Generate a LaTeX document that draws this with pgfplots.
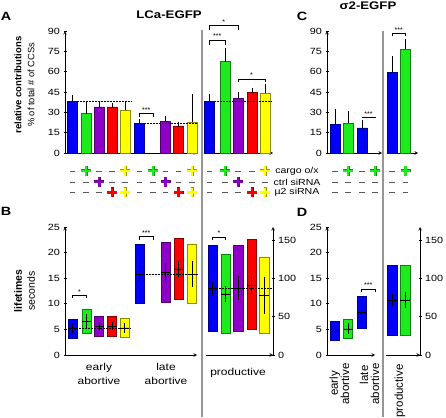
\documentclass[border=0pt]{standalone}
\usepackage{fontspec}
\setmainfont{Liberation Sans}
\newfontfamily\wide{Liberation Sans}[FakeStretch=1.2]
\usepackage{pgfplots}
\pgfplotsset{compat=1.18}
\usepgfplotslibrary{statistics}
\definecolor{cblue}{RGB}{0,0,250}
\definecolor{cgreen}{RGB}{30,235,30}
\definecolor{cpurple}{RGB}{140,0,200}
\definecolor{cred}{RGB}{250,0,0}
\definecolor{cyellow}{RGB}{255,255,0}
\definecolor{sepgray}{RGB}{150,150,150}
\pgfplotsset{
  base/.style={scale only axis, anchor=south west, clip=false,
    axis line style={black, line width=0.6pt, -},
    tick style={black, line width=0.6pt},
    tick align=outside, major tick length=3pt,
    ticklabel style={font=\wide\fontsize{9}{10}\selectfont},
    /pgf/number format/assume math mode=true,
    xtick=\empty, axis x line=bottom},
  bb/.style={ybar, bar width=10pt, fill=#1, draw=#1!55!black, line width=0.5pt,
    error bars/.cd, y dir=plus, y explicit,
    error bar style={black, line width=0.5pt},
    error mark options={black, mark size=2.5pt, line width=0.5pt}},
  eb/.style={draw=none, mark=none,
    error bars/.cd, y dir=both, y explicit,
    error bar style={draw=black, line width=0.5pt},
    error mark options={draw=black, mark size=#1, line width=0.5pt}},
  boxplot/draw direction=y,
  boxplot/every median/.style={black, line width=0.5pt},
}
\newcommand\FB[6]{\addplot[fill=#1, draw=#1!55!black, line width=0.5pt,
  boxplot prepared={draw position=#2, lower whisker=#3, lower quartile=#3,
  median=#4, upper quartile=#5, upper whisker=#5, box extend=#6, draw direction=y}] coordinates {};}
\newcommand\BR[5]{\draw[black, line width=0.5pt] (axis cs:#1,#4) -- (axis cs:#1,#3) -- (axis cs:#2,#3) -- (axis cs:#2,#4);
  \node[font=\fontsize{7}{7}\selectfont, anchor=south, inner sep=0.8pt] at (axis cs:{(#1+#2)/2},#3) {#5};}
\begin{document}
\begin{tikzpicture}[x=1pt,y=1pt]
\useasboundingbox (0,0) rectangle (446,417);
% separators
\draw[sepgray, line width=1.2pt] (202,{417-30}) -- (202,0);
\draw[sepgray, line width=1.2pt] (383,{417-31}) -- (383,0);

% ---------- A left
\begin{axis}[base, at={(65pt,264pt)}, width=132pt, height=122pt,
  xmin=65, xmax=197, ymin=0, ymax=90, axis y line=left, ytick={0,15,...,90}]
\addplot[bb=cblue] coordinates {(72.5,38) +- (0,3) (139.5,22) +- (0,1)};
\addplot[bb=cgreen] coordinates {(86,29) +- (0,7)};
\addplot[bb=cpurple] coordinates {(99,34) +- (0,2) (165.5,23.5) +- (0,2)};
\addplot[bb=cred] coordinates {(112,34) +- (0,1) (178.5,20) +- (0,1)};
\addplot[bb=cyellow] coordinates {(125,31.5) +- (0,4) (192,22.5) +- (0,19)};
\addplot[densely dotted, black, line width=0.5pt] coordinates {(78,38) (131,38)};
\addplot[densely dotted, black, line width=0.5pt] coordinates {(145,22) (197,22)};
\BR{139.5}{153}{29.5}{26.5}{***}
\end{axis}

% ---------- A right (productive)
\begin{axis}[base, at={(204pt,264pt)}, width=69pt, height=122pt,
  xmin=204, xmax=273, ymin=0, ymax=90, axis y line=none]
\addplot[bb=cblue] coordinates {(209.5,38) +- (0,4)};
\addplot[bb=cgreen] coordinates {(225,67.5) +- (0,8)};
\addplot[bb=cpurple] coordinates {(238,40.5) +- (0,3)};
\addplot[bb=cred] coordinates {(252,44.5) +- (0,1.5)};
\addplot[bb=cyellow] coordinates {(265,44) +- (0,5)};
\addplot[densely dotted, black, line width=0.5pt] coordinates {(215,38) (271,38)};
\BR{209.5}{225}{83.4}{80}{***}
\BR{209.5}{238}{94.4}{91}{*}
\BR{238}{265}{54.6}{52.4}{*}
\end{axis}

% ---------- C left
\begin{axis}[base, at={(327pt,264pt)}, width=55pt, height=122pt,
  xmin=327, xmax=382, ymin=0, ymax=90, axis y line=left, ytick={0,15,...,90}]
\addplot[bb=cblue] coordinates {(335,21) +- (0,9.5) (362,18.5) +- (0,4)};
\addplot[bb=cgreen] coordinates {(348,22) +- (0,7)};
\BR{362}{375}{26.5}{25.5}{***}
\end{axis}

% ---------- C right
\begin{axis}[base, at={(387pt,264pt)}, width=31pt, height=122pt,
  xmin=387, xmax=418, ymin=0, ymax=90, axis y line=none]
\addplot[bb=cblue] coordinates {(392,59.5) +- (0,10)};
\addplot[bb=cgreen] coordinates {(405.5,76.5) +- (0,5.5)};
\BR{392}{405.5}{88.5}{86}{***}
\end{axis}

% ---------- B left
\begin{axis}[base, at={(65pt,62pt)}, width=132pt, height=128pt,
  xmin=65, xmax=197, ymin=0, ymax=25, axis y line=left, ytick={0,5,...,25}]
\FB{cblue}{72.5}{3.3}{5.2}{7.0}{9}
\FB{cgreen}{86.5}{4.2}{6.6}{9.0}{9}
\FB{cpurple}{99}{3.6}{5.6}{7.6}{9}
\FB{cred}{112}{3.6}{5.6}{7.6}{9}
\FB{cyellow}{124.5}{3.4}{5.3}{7.2}{9}
\FB{cblue}{139.5}{10.2}{15.8}{21.6}{9}
\FB{cpurple}{165.5}{10.4}{16.1}{22.0}{9}
\FB{cred}{178.5}{10.8}{16.8}{22.8}{9}
\FB{cyellow}{192}{10.2}{15.8}{21.6}{9}
\addplot[eb=2.5pt] coordinates {(72.5,5.2) +- (0,0.6) (86.5,6.6) +- (0,1.0) (99,5.6) +- (0,0.3) (112,5.6) +- (0,0.3) (124.5,5.3) +- (0,0.5)
  (139.5,15.8) +- (0,1.0) (165.5,16.1) +- (0,1.4) (178.5,16.8) +- (0,1.0) (192,15.8) +- (0,2.0)};
\addplot[densely dotted, black, line width=0.5pt] coordinates {(77,5.2) (130,5.2)};
\addplot[densely dotted, black, line width=0.5pt] coordinates {(144,15.8) (197,15.8)};
\BR{72.5}{86.5}{11.7}{11.1}{*}
\BR{139.5}{153}{23.1}{22.5}{***}
\end{axis}

% ---------- B right
\begin{axis}[base, at={(206pt,62pt)}, width=67pt, height=128pt,
  xmin=206, xmax=273, ymin=0, ymax=167, axis y line=right, ytick={0,50,100,150}]
\FB{cblue}{212.5}{30.4}{87}{142.6}{9.5}
\FB{cgreen}{225.5}{29}{79.6}{132}{9.5}
\FB{cpurple}{238}{31.3}{87.4}{143.5}{9.5}
\FB{cred}{251.5}{34}{91}{151}{9.5}
\FB{cyellow}{264}{28.7}{78}{128}{9.5}
\addplot[eb=2.5pt] coordinates {(212.5,87) +- (0,5) (225.5,79.6) +- (0,7) (238,87.4) +- (0,13) (251.5,91) +- (0,8) (264,78) +- (0,21)};
\addplot[densely dotted, black, line width=0.5pt] coordinates {(217,87) (273,87)};
\BR{212.5}{225.5}{154}{150}{*}
\end{axis}

% ---------- D left
\begin{axis}[base, at={(327pt,62pt)}, width=48pt, height=128pt,
  xmin=327, xmax=375, ymin=0, ymax=25, axis y line=left, ytick={0,5,...,25}]
\FB{cblue}{335}{2.9}{4.7}{6.5}{9}
\FB{cgreen}{348}{3.2}{5.1}{7.0}{9}
\FB{cblue}{361.5}{5.3}{8.3}{11.4}{9}
\addplot[eb=2.5pt] coordinates {(335,4.7) +- (0,0.4) (348,5.1) +- (0,0.6) (361.5,8.3) +- (0,1.8)};
\BR{361.5}{375}{12.9}{12.4}{***}
\end{axis}

% ---------- D right
\begin{axis}[base, at={(386pt,62pt)}, width=34pt, height=128pt,
  xmin=386, xmax=420, ymin=0, ymax=167, axis y line=right, ytick={0,50,100,150}]
\FB{cblue}{392}{26}{71.7}{117}{10}
\FB{cgreen}{405}{26}{72}{117}{10}
\addplot[eb=2.5pt] coordinates {(392,71.7) +- (0,5) (405,72) +- (0,7)};
\end{axis}

% ---------- condition rows (pixel frame)
\begin{axis}[scale only axis, anchor=south west, at={(0pt,0pt)}, width=446pt, height=417pt,
  xmin=0, xmax=446, ymin=0, ymax=417, y dir=reverse, hide axis, clip=false]
\addplot[only marks, mark=-, mark size=2.6pt, color=black!65, mark options={line width=0.7pt}] coordinates {
 (72.5,171) (99,171) (112,171) (139.5,171) (165.5,171) (178.5,171) (209.5,171) (238,171) (252,171) (335,171) (362,171) (392,171)
 (72.5,182) (86,182) (112,182) (125,182) (139.5,182) (153,182) (178.5,182) (192,182) (209.5,182) (225,182) (252,182) (265,182)
 (335,182) (348,182) (362,182) (375,182) (392,182) (405.5,182)
 (72.5,192.5) (86,192.5) (99,192.5) (139.5,192.5) (153,192.5) (165.5,192.5) (209.5,192.5) (225,192.5) (238,192.5)
 (335,192.5) (348,192.5) (362,192.5) (375,192.5) (392,192.5) (405.5,192.5)};
\addplot[only marks, mark=+, mark size=5pt, color=cgreen!60!black, mark options={line width=3pt}] coordinates {(86,171) (153,171) (225,171) (348,171) (375,171) (405.5,171)};
\addplot[only marks, mark=+, mark size=4.6pt, color=cgreen, mark options={line width=2.2pt}] coordinates {(86,171) (153,171) (225,171) (348,171) (375,171) (405.5,171)};
\addplot[only marks, mark=+, mark size=5pt, color=cpurple!60!black, mark options={line width=3pt}] coordinates {(99,182) (165.5,182) (238,182)};
\addplot[only marks, mark=+, mark size=4.6pt, color=cpurple, mark options={line width=2.2pt}] coordinates {(99,182) (165.5,182) (238,182)};
\addplot[only marks, mark=+, mark size=5pt, color=cred!60!black, mark options={line width=3pt}] coordinates {(112,192.5) (178.5,192.5) (252,192.5)};
\addplot[only marks, mark=+, mark size=4.6pt, color=cred, mark options={line width=2.2pt}] coordinates {(112,192.5) (178.5,192.5) (252,192.5)};
\addplot[only marks, mark=+, mark size=5pt, color=cyellow!60!black, mark options={line width=3pt}] coordinates {(125,171) (192,171) (265,171) (125,192.5) (192,192.5) (265,192.5)};
\addplot[only marks, mark=+, mark size=4.6pt, color=cyellow, mark options={line width=2.2pt}] coordinates {(125,171) (192,171) (265,171) (125,192.5) (192,192.5) (265,192.5)};
\end{axis}

% ---------- texts
\node[font=\wide\fontsize{12}{12}\selectfont\bfseries] at (6,{417-16.5}) {A};
\node[font=\wide\fontsize{12}{12}\selectfont\bfseries] at (6,{417-211.5}) {B};
\node[font=\wide\fontsize{12}{12}\selectfont\bfseries] at (302,{417-16.5}) {C};
\node[font=\wide\fontsize{12}{12}\selectfont\bfseries] at (302,{417-212}) {D};
\node[font=\wide\fontsize{11}{11}\selectfont\bfseries] at (169,{417-15}) {LCa-EGFP};
\node[font=\wide\fontsize{11}{11}\selectfont\bfseries] at (368,{417-6}) {σ2-EGFP};
\node[font=\fontsize{9.5}{10}\selectfont\bfseries, rotate=90] at (18,{417-85}) {relative contributions};
\node[font=\fontsize{9.3}{10}\selectfont, rotate=90] at (31,{417-85}) {\% of total \# of CCSs};
\node[font=\fontsize{10.5}{11}\selectfont\bfseries, rotate=90] at (18,{417-291}) {lifetimes};
\node[font=\fontsize{10.5}{11}\selectfont, rotate=90] at (31,{417-291}) {seconds};
\node[font=\wide\fontsize{8.8}{9}\selectfont] at (297,{417-171}) {cargo o/x};
\node[font=\wide\fontsize{8.8}{9}\selectfont] at (297,{417-182}) {ctrl siRNA};
\node[font=\wide\fontsize{8.8}{9}\selectfont] at (297,{417-192.5}) {µ2 siRNA};
\node[font=\wide\fontsize{10}{14}\selectfont, align=center] at (99,{417-374}) {early\\abortive};
\node[font=\wide\fontsize{10}{14}\selectfont, align=center] at (166,{417-374}) {late\\abortive};
\node[font=\wide\fontsize{10}{14}\selectfont] at (238,{417-373}) {productive};
\node[font=\fontsize{11.5}{12}\selectfont, rotate=90] at (335,{417-383.5}) {early};
\node[font=\fontsize{11.5}{12}\selectfont, rotate=90, anchor=east] at (345,{417-360}) {abortive};
\node[font=\fontsize{11.5}{12}\selectfont, rotate=90, anchor=east] at (364,{417-362}) {late};
\node[font=\fontsize{11.5}{12}\selectfont, rotate=90, anchor=east] at (375,{417-360}) {abortive};
\node[font=\fontsize{11.5}{12}\selectfont, rotate=90, anchor=east] at (400,{417-361}) {productive};
\end{tikzpicture}
\end{document}
